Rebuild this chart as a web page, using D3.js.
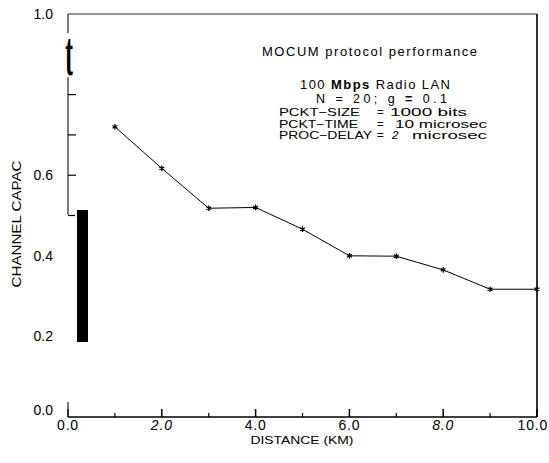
<!DOCTYPE html>
<html>
	<head>
		<script src="https://d3js.org/d3.v7.min.js" charset="utf-8"></script>
		<style type="text/css">
			body {
				margin: 0;
				background-color: white;
				font-family: "Liberation Sans", Arial, sans-serif;
			}
		</style>
	</head>
	<body>
		<script>
		// values
		var distance = [1, 2, 3, 4, 5, 6, 7, 8, 9, 10];
		var capacity = [0.72, 0.617, 0.518, 0.52, 0.466, 0.400, 0.399, 0.365, 0.317, 0.317];

		var xTicks = [0, 1, 2, 3, 4, 5, 6, 7, 8, 9, 10];
		var xTickLabels = ["0.0", "2.0", "4.0", "6.0", "8.0", "10.0"];
		var yTickLabels = ["0.0", "0.2", "0.4", "0.6", "1.0"];
		var yTicks = [0.5, 0.6, 0.7, 0.8];

		var w = 549, h = 463;

		var x = d3.scaleLinear().domain([0, 10]).range([68, 537]);
		var y = d3.scaleLinear().domain([0, 1]).range([417, 14]);

		var svg = d3.select("body")
					.append("svg")
					.attr("width", w)
					.attr("height", h);

		// frame: top and right
		svg.append("line")
			.attr("x1", x(0)).attr("x2", x(10))
			.attr("y1", y(1)).attr("y2", y(1))
			.attr("stroke", "#333").attr("stroke-width", 1.2);
		svg.append("line")
			.attr("x1", x(10)).attr("x2", x(10))
			.attr("y1", y(1)).attr("y2", y(0))
			.attr("stroke", "black").attr("stroke-width", 1.6);

		// bottom axis
		svg.append("line")
			.attr("x1", x(0)).attr("x2", x(10))
			.attr("y1", y(0)).attr("y2", y(0))
			.attr("stroke", "black").attr("stroke-width", 1.3);

		svg.selectAll(".xtick")
			.data(xTicks)
			.enter()
				.append("line")
				.attr("x1", function(d) {return x(d)})
				.attr("x2", function(d) {return x(d)})
				.attr("y1", y(0))
				.attr("y2", function(d) {return y(0) - (d % 2 == 0 ? 8 : 4)})
				.attr("stroke", "black")
				.attr("stroke-width", function(d) {return d % 2 == 0 ? 1.5 : 1.2});

		svg.selectAll(".xlab")
			.data(xTickLabels)
			.enter()
				.append("text")
				.attr("x", function(d) {return d == "10.0" ? w - 1 : x(+d)})
				.attr("y", 430)
				.attr("text-anchor", function(d) {return d == "10.0" ? "end" : "middle"})
				.attr("font-size", 14)
				.attr("letter-spacing", 0.8)
				.attr("font-style", function(d) {return (d == "2.0" || d == "8.0") ? "italic" : "normal"})
				.text(function(d) {return d});

		// left axis, broken up as in the scan
		var leftSegs = [[1.0, 0.953], [0.843, 0.502], [0.037, 0.0]];
		svg.selectAll(".lseg")
			.data(leftSegs)
			.enter()
				.append("line")
				.attr("x1", x(0)).attr("x2", x(0))
				.attr("y1", function(d) {return y(d[0])})
				.attr("y2", function(d) {return y(d[1])})
				.attr("stroke", "#222").attr("stroke-width", 1.2);

		svg.selectAll(".ytick")
			.data(yTicks)
			.enter()
				.append("line")
				.attr("x1", x(0))
				.attr("x2", function(d) {return x(0) + (d == 0.5 ? 7 : 8)})
				.attr("y1", function(d) {return y(d)})
				.attr("y2", function(d) {return y(d)})
				.attr("stroke", "black").attr("stroke-width", 1.2);

		svg.selectAll(".ylab")
			.data(yTickLabels)
			.enter()
				.append("text")
				.attr("x", 53)
				.attr("y", function(d) {return y(+d) - (d == "0.0" ? 7 : 0)})
				.attr("dy", "0.36em")
				.attr("text-anchor", "end")
				.attr("font-size", 14)
				.text(function(d) {return d});

		// scan artifacts on the left axis
		svg.append("text")
			.attr("transform", "translate(69,75) scale(0.36,1)")
			.attr("text-anchor", "middle")
			.attr("font-family", "Liberation Serif")
			.attr("font-weight", "bold")
			.attr("font-size", 64)
			.text("t");
		svg.append("rect")
			.attr("x", 77).attr("y", 210)
			.attr("width", 11).attr("height", 132)
			.attr("fill", "black");

		// axis titles
		svg.append("text")
			.attr("transform", "translate(21,224) rotate(-90)")
			.attr("text-anchor", "middle")
			.attr("font-size", 13)
			.attr("textLength", 127)
			.attr("lengthAdjust", "spacingAndGlyphs")
			.text("CHANNEL  CAPAC");
		svg.append("text")
			.attr("x", 302).attr("y", 444)
			.attr("text-anchor", "middle")
			.attr("font-size", 11.5)
			.attr("textLength", 103)
			.attr("lengthAdjust", "spacingAndGlyphs")
			.text("DISTANCE (KM)");

		// data line and markers
		var pts = distance.map(function(d, i) {return [d, capacity[i]]});
		var line = d3.line()
					.x(function(d) {return x(d[0])})
					.y(function(d) {return y(d[1])});
		svg.append("path")
			.datum(pts)
			.attr("d", line)
			.attr("fill", "none")
			.attr("stroke", "black")
			.attr("stroke-width", 1);

		svg.selectAll(".pt")
			.data(pts)
			.enter()
				.append("path")
				.attr("transform", function(d) {return "translate(" + x(d[0]) + "," + y(d[1]) + ")"})
				.attr("d", d3.symbol().type(d3.symbolAsterisk).size(22))
				.attr("fill", "none")
				.attr("stroke", "black")
				.attr("stroke-width", 1.2);

		// annotation block
		var note = svg.append("g").attr("font-size", 13);

		note.append("text")
			.attr("x", 262).attr("y", 56)
			.attr("textLength", 215)
			.attr("lengthAdjust", "spacing")
			.text("MOCUM  protocol  performance");

		var l2 = note.append("text")
			.attr("x", 300).attr("y", 89)
			.attr("textLength", 150)
			.attr("lengthAdjust", "spacing");
		l2.append("tspan").text("100  ");
		l2.append("tspan").attr("font-weight", "bold").text("Mbps");
		l2.append("tspan").text("  Radio  LAN");

		var l3 = note.append("text")
			.attr("x", 316).attr("y", 103)
			.attr("font-size", 12.5)
			.attr("textLength", 131)
			.attr("lengthAdjust", "spacing");
		l3.append("tspan").text("N  =  20;  g  ");
		l3.append("tspan").attr("font-weight", "bold").text("=");
		l3.append("tspan").text("  0.1");

		var rows = [
			{y: 116, left: "PCKT\u2212SIZE", lw: 81, right: "1000  bits", rx: 390, rw: 77},
			{y: 127.5, left: "PCKT\u2212TIME", lw: 79, right: "10  microsec", rx: 395, rw: 92},
			{y: 139, left: "PROC\u2212DELAY", lw: 93, right: "", rx: 412, rw: 75}
		];
		var rowText = note.append("g").attr("font-size", 11.5);
		rows.forEach(function(r) {
			rowText.append("text")
				.attr("x", 279).attr("y", r.y)
				.attr("textLength", r.lw)
				.attr("lengthAdjust", "spacingAndGlyphs")
				.text(r.left);
			rowText.append("text")
				.attr("x", 377).attr("y", r.y)
				.text("=");
			if (r.right != "") {
				rowText.append("text")
					.attr("x", r.rx).attr("y", r.y)
					.attr("textLength", r.rw)
					.attr("lengthAdjust", "spacingAndGlyphs")
					.text(r.right);
			} else {
				rowText.append("text")
					.attr("x", 392).attr("y", r.y)
					.attr("font-style", "italic")
					.text("2");
				rowText.append("text")
					.attr("x", r.rx).attr("y", r.y)
					.attr("textLength", r.rw)
					.attr("lengthAdjust", "spacingAndGlyphs")
					.text("microsec");
			}
		});
		</script>
	</body>
</html>
